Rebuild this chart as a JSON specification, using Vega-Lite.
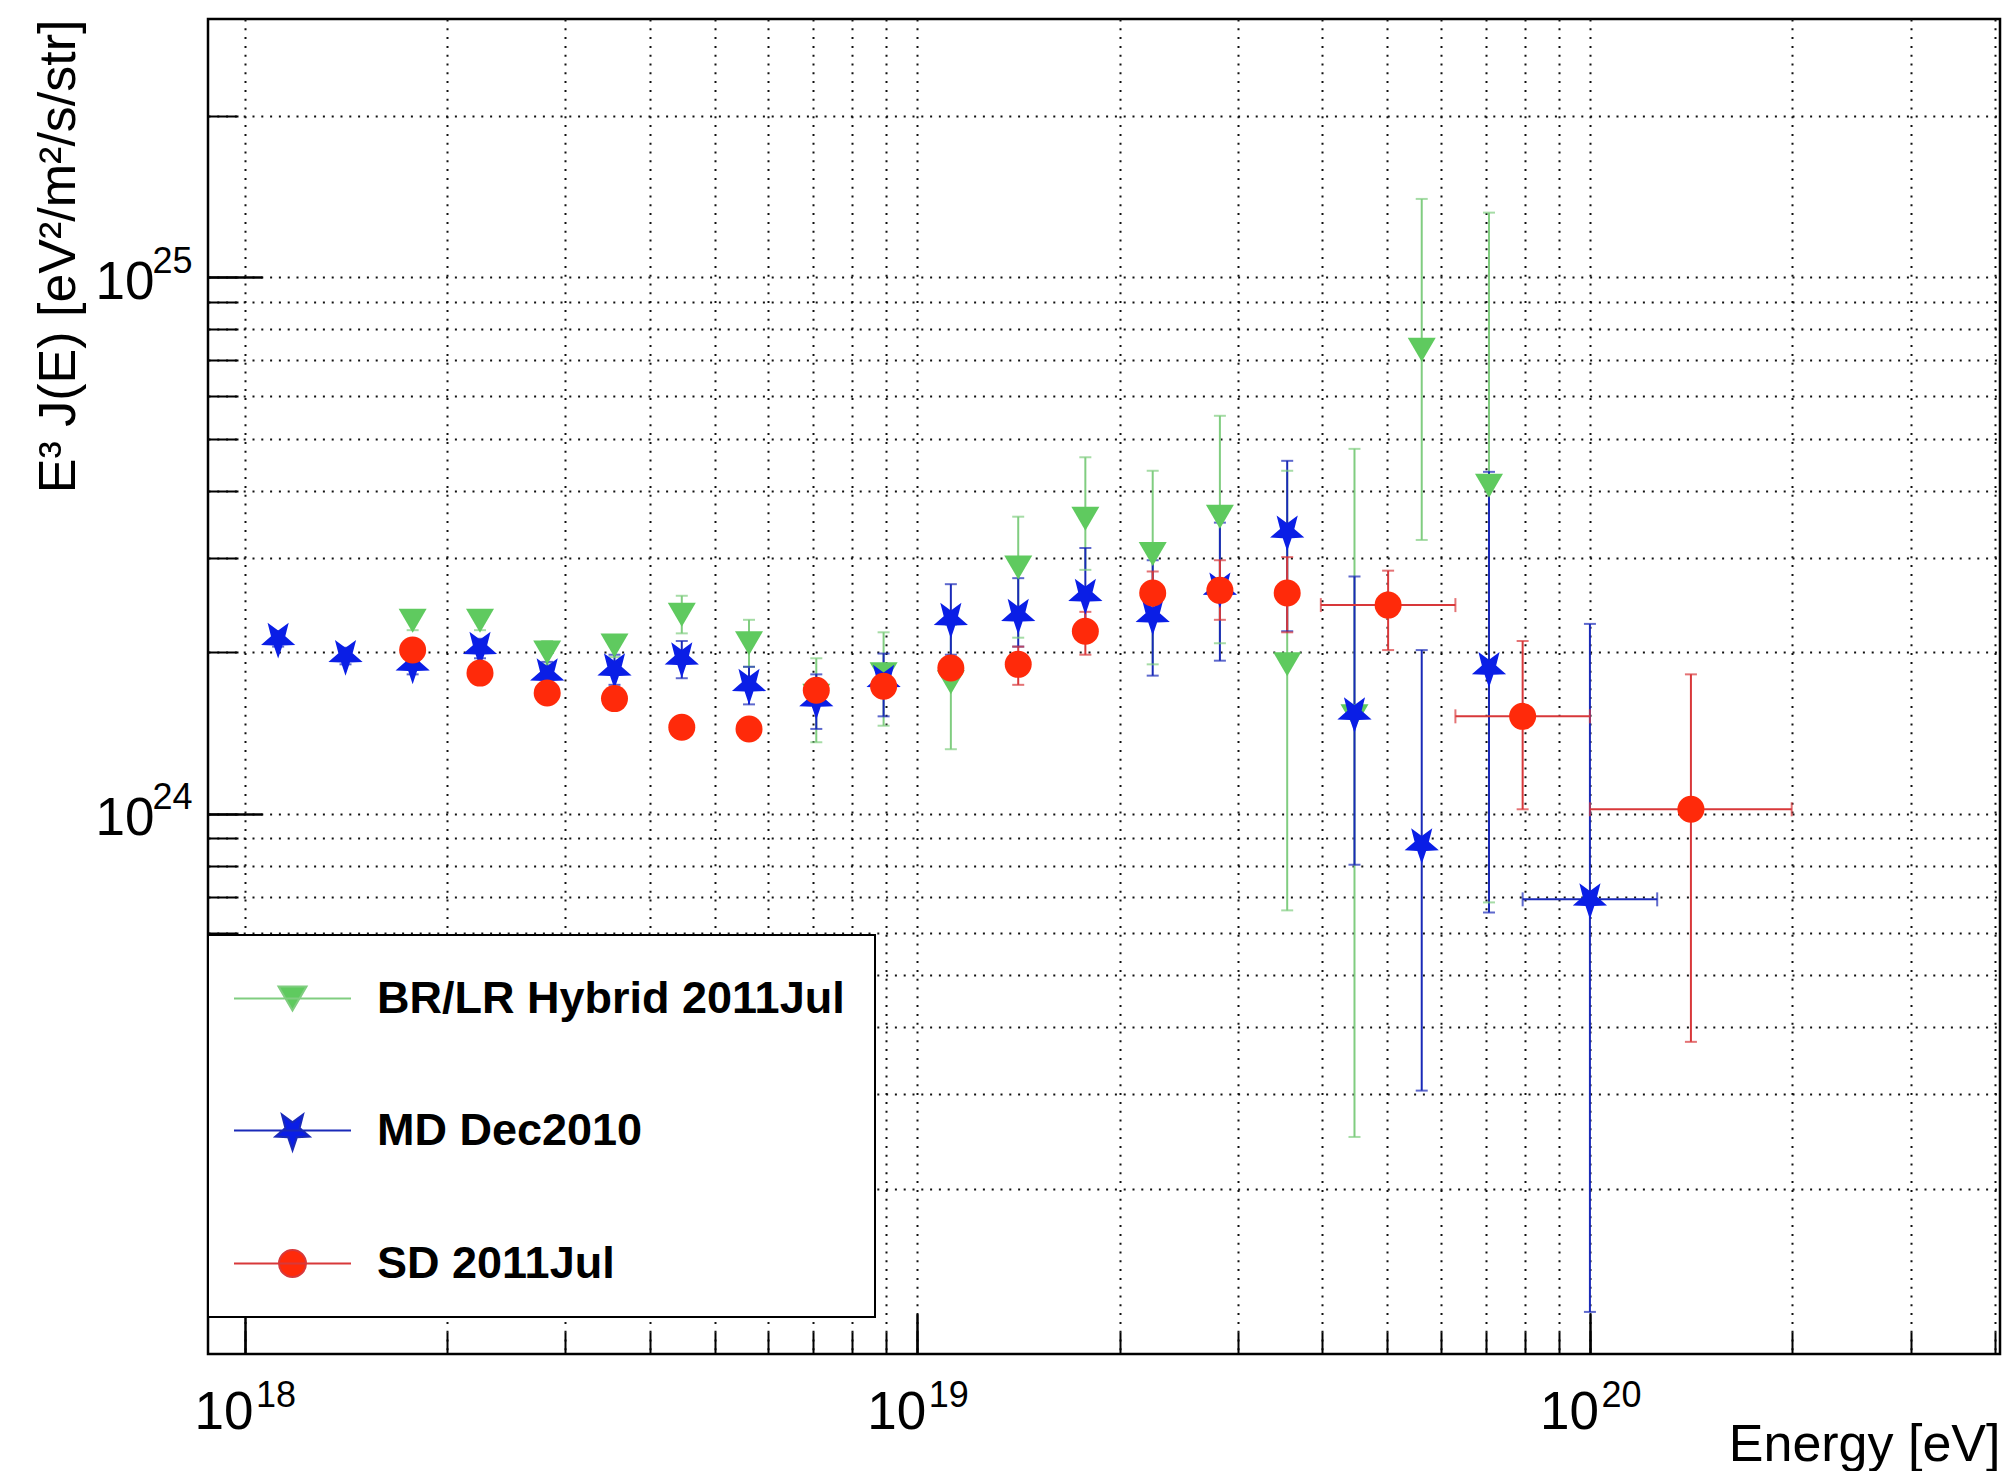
{
  "$schema": "https://vega.github.io/schema/vega-lite/v6.json",
  "width": 1792,
  "height": 1335,
  "autosize": {"type": "none"},
  "padding": {"left": 208, "top": 19, "right": 3, "bottom": 117},
  "background": "white",
  "config": {
    "view": {"stroke": "black", "strokeWidth": 2.5},
    "font": "Liberation Sans",
    "axis": {
      "labelFont": "Liberation Sans", "titleFont": "Liberation Sans",
      "labelColor": "black", "titleColor": "black", "titleFontWeight": "normal",
      "tickColor": "black", "tickWidth": 2, "domain": false,
      "gridColor": "#111111", "gridDash": [2, 6.8], "gridWidth": 2, "gridOpacity": 1
    },
    "legend": {"strokeWidth": 2}
  },
  "datasets": {
    "pts": [
      {"s": "BR/LR Hybrid 2011Jul", "E": 1.778e18, "J": 2.29e24, "lo": 2.20e24, "hi": 2.38e24},
      {"s": "BR/LR Hybrid 2011Jul", "E": 2.239e18, "J": 2.29e24, "lo": 2.20e24, "hi": 2.38e24},
      {"s": "BR/LR Hybrid 2011Jul", "E": 2.818e18, "J": 2.00e24, "lo": 1.90e24, "hi": 2.10e24},
      {"s": "BR/LR Hybrid 2011Jul", "E": 3.548e18, "J": 2.06e24, "lo": 1.96e24, "hi": 2.15e24},
      {"s": "BR/LR Hybrid 2011Jul", "E": 4.467e18, "J": 2.35e24, "lo": 2.17e24, "hi": 2.55e24},
      {"s": "BR/LR Hybrid 2011Jul", "E": 5.623e18, "J": 2.08e24, "lo": 1.88e24, "hi": 2.30e24},
      {"s": "BR/LR Hybrid 2011Jul", "E": 7.079e18, "J": 1.66e24, "lo": 1.36e24, "hi": 1.95e24},
      {"s": "BR/LR Hybrid 2011Jul", "E": 8.913e18, "J": 1.82e24, "lo": 1.46e24, "hi": 2.18e24},
      {"s": "BR/LR Hybrid 2011Jul", "E": 1.122e19, "J": 1.76e24, "lo": 1.32e24, "hi": 2.25e24},
      {"s": "BR/LR Hybrid 2011Jul", "E": 1.413e19, "J": 2.88e24, "lo": 2.13e24, "hi": 3.58e24},
      {"s": "BR/LR Hybrid 2011Jul", "E": 1.778e19, "J": 3.55e24, "lo": 2.85e24, "hi": 4.62e24},
      {"s": "BR/LR Hybrid 2011Jul", "E": 2.239e19, "J": 3.05e24, "lo": 1.90e24, "hi": 4.36e24},
      {"s": "BR/LR Hybrid 2011Jul", "E": 2.818e19, "J": 3.58e24, "lo": 2.08e24, "hi": 5.52e24},
      {"s": "BR/LR Hybrid 2011Jul", "E": 3.548e19, "J": 1.90e24, "lo": 6.61e23, "hi": 4.36e24},
      {"s": "BR/LR Hybrid 2011Jul", "E": 4.467e19, "J": 1.52e24, "lo": 2.50e23, "hi": 4.79e24},
      {"s": "BR/LR Hybrid 2011Jul", "E": 5.623e19, "J": 7.33e24, "lo": 3.24e24, "hi": 1.40e25},
      {"s": "BR/LR Hybrid 2011Jul", "E": 7.079e19, "J": 4.09e24, "lo": 6.84e23, "hi": 1.32e25},
      {"s": "MD Dec2010", "E": 1.122e18, "J": 2.12e24, "lo": 2.05e24, "hi": 2.19e24},
      {"s": "MD Dec2010", "E": 1.413e18, "J": 1.97e24, "lo": 1.90e24, "hi": 2.04e24},
      {"s": "MD Dec2010", "E": 1.778e18, "J": 1.90e24, "lo": 1.82e24, "hi": 1.98e24},
      {"s": "MD Dec2010", "E": 2.239e18, "J": 2.04e24, "lo": 1.95e24, "hi": 2.12e24},
      {"s": "MD Dec2010", "E": 2.818e18, "J": 1.82e24, "lo": 1.72e24, "hi": 1.92e24},
      {"s": "MD Dec2010", "E": 3.548e18, "J": 1.86e24, "lo": 1.74e24, "hi": 1.98e24},
      {"s": "MD Dec2010", "E": 4.467e18, "J": 1.95e24, "lo": 1.79e24, "hi": 2.10e24},
      {"s": "MD Dec2010", "E": 5.623e18, "J": 1.74e24, "lo": 1.60e24, "hi": 1.88e24},
      {"s": "MD Dec2010", "E": 7.079e18, "J": 1.63e24, "lo": 1.44e24, "hi": 1.82e24},
      {"s": "MD Dec2010", "E": 8.913e18, "J": 1.77e24, "lo": 1.52e24, "hi": 1.99e24},
      {"s": "MD Dec2010", "E": 1.122e19, "J": 2.31e24, "lo": 1.98e24, "hi": 2.68e24},
      {"s": "MD Dec2010", "E": 1.413e19, "J": 2.35e24, "lo": 2.05e24, "hi": 2.75e24},
      {"s": "MD Dec2010", "E": 1.778e19, "J": 2.56e24, "lo": 2.15e24, "hi": 3.13e24},
      {"s": "MD Dec2010", "E": 2.239e19, "J": 2.34e24, "lo": 1.81e24, "hi": 2.97e24},
      {"s": "MD Dec2010", "E": 2.818e19, "J": 2.63e24, "lo": 1.93e24, "hi": 3.49e24},
      {"s": "MD Dec2010", "E": 3.548e19, "J": 3.36e24, "lo": 2.19e24, "hi": 4.55e24},
      {"s": "MD Dec2010", "E": 4.467e19, "J": 1.54e24, "lo": 8.04e23, "hi": 2.77e24},
      {"s": "MD Dec2010", "E": 5.623e19, "J": 8.78e23, "lo": 3.05e23, "hi": 2.02e24},
      {"s": "MD Dec2010", "E": 7.079e19, "J": 1.87e24, "lo": 6.55e23, "hi": 4.34e24},
      {"s": "MD Dec2010", "E": 1.0e20, "J": 6.93e23, "lo": 1.18e23, "hi": 2.26e24, "Elo": 7.943e19, "Ehi": 1.259e20},
      {"s": "SD 2011Jul", "E": 1.778e18, "J": 2.02e24, "lo": 1.95e24, "hi": 2.09e24},
      {"s": "SD 2011Jul", "E": 2.239e18, "J": 1.83e24, "lo": 1.77e24, "hi": 1.89e24},
      {"s": "SD 2011Jul", "E": 2.818e18, "J": 1.68e24, "lo": 1.62e24, "hi": 1.74e24},
      {"s": "SD 2011Jul", "E": 3.548e18, "J": 1.64e24, "lo": 1.58e24, "hi": 1.70e24},
      {"s": "SD 2011Jul", "E": 4.467e18, "J": 1.45e24, "lo": 1.39e24, "hi": 1.51e24},
      {"s": "SD 2011Jul", "E": 5.623e18, "J": 1.44e24, "lo": 1.38e24, "hi": 1.50e24},
      {"s": "SD 2011Jul", "E": 7.079e18, "J": 1.70e24, "lo": 1.63e24, "hi": 1.77e24},
      {"s": "SD 2011Jul", "E": 8.913e18, "J": 1.73e24, "lo": 1.65e24, "hi": 1.81e24},
      {"s": "SD 2011Jul", "E": 1.122e19, "J": 1.87e24, "lo": 1.78e24, "hi": 1.96e24},
      {"s": "SD 2011Jul", "E": 1.413e19, "J": 1.90e24, "lo": 1.74e24, "hi": 2.05e24},
      {"s": "SD 2011Jul", "E": 1.778e19, "J": 2.19e24, "lo": 1.98e24, "hi": 2.38e24},
      {"s": "SD 2011Jul", "E": 2.239e19, "J": 2.58e24, "lo": 2.33e24, "hi": 2.83e24},
      {"s": "SD 2011Jul", "E": 2.818e19, "J": 2.61e24, "lo": 2.30e24, "hi": 2.97e24},
      {"s": "SD 2011Jul", "E": 3.548e19, "J": 2.58e24, "lo": 2.18e24, "hi": 3.01e24},
      {"s": "SD 2011Jul", "E": 5.012e19, "J": 2.45e24, "lo": 2.02e24, "hi": 2.84e24, "Elo": 3.981e19, "Ehi": 6.310e19},
      {"s": "SD 2011Jul", "E": 7.943e19, "J": 1.52e24, "lo": 1.02e24, "hi": 2.10e24, "Elo": 6.310e19, "Ehi": 1.0e20},
      {"s": "SD 2011Jul", "E": 1.413e20, "J": 1.02e24, "lo": 3.76e23, "hi": 1.82e24, "Elo": 1.0e20, "Ehi": 1.995e20}
    ]
  },
  "data": {"name": "pts"},
  "layer": [
    {
      "mark": {"type": "rule", "strokeWidth": 2},
      "encoding": {
        "x": {"field": "E", "type": "quantitative", "scale": {"type": "log", "domain": [8.825e17, 4.07e20], "nice": false},
          "axis": {"orient": "bottom", "values": [1e18, 2e18, 3e18, 4e18, 5e18, 6e18, 7e18, 8e18, 9e18, 1e19, 2e19, 3e19, 4e19, 5e19, 6e19, 7e19, 8e19, 9e19, 1e20, 2e20, 3e20, 4e20], "grid": true, "labels": false, "tickSize": -22, "title": null}},
        "y": {"field": "lo", "type": "quantitative", "scale": {"type": "log", "domain": [9.85e22, 3.03e25], "nice": false},
          "axis": {"orient": "left", "values": [2e23, 3e23, 4e23, 5e23, 6e23, 7e23, 8e23, 9e23, 1e24, 2e24, 3e24, 4e24, 5e24, 6e24, 7e24, 8e24, 9e24, 1e25, 2e25], "grid": true, "labels": false, "tickSize": -30, "title": null}},
        "y2": {"field": "hi"},
        "color": {"field": "s", "type": "nominal", "legend": null,
          "scale": {"range": ["#80cd80", "#1a2ab8", "#d8383a"]}}
      }
    },
    {
      "mark": {"type": "tick", "orient": "horizontal", "size": 12, "thickness": 2},
      "encoding": {
        "x": {"field": "E", "type": "quantitative", "scale": {"type": "log", "domain": [8.825e17, 4.07e20], "nice": false},
          "axis": {"orient": "bottom", "values": [1e18, 1e19, 1e20], "grid": false, "tickSize": -40, "labelPadding": 72,
            "labelExpr": "'10'", "labelOffset": -21,
            "labelFontSize": 53, "labelBaseline": "top", "labelAlign": "center", "labelFlush": false, "labelOverlap": false,
            "title": "Energy [eV]", "titleFontSize": 52, "titleAnchor": "end", "titleAlign": "right", "titleX": 1792, "titleY": 106, "titleBaseline": "alphabetic"}},
        "y": {"field": "lo", "type": "quantitative", "scale": {"type": "log", "domain": [9.85e22, 3.03e25], "nice": false},
          "axis": {"orient": "left", "values": [1e24, 1e25], "grid": false, "tickSize": -54, "labelPadding": 108,
            "labelExpr": "'10'", "labelOffset": 21,
            "labelFontSize": 53, "labelAlign": "right", "labelBaseline": "alphabetic", "labelFlush": false, "labelOverlap": false,
            "title": "E³ J(E) [eV²/m²/s/str]", "titleFontSize": 52, "titleAngle": 270, "titleAnchor": "end", "titleAlign": "right", "titleX": -134, "titleY": 0, "titleBaseline": "alphabetic"}},
        "color": {"field": "s", "type": "nominal", "legend": null}
      }
    },
    {
      "mark": {"type": "tick", "orient": "horizontal", "size": 12, "thickness": 2},
      "encoding": {
        "x": {"field": "E", "type": "quantitative", "scale": {"type": "log", "domain": [8.825e17, 4.07e20], "nice": false},
          "axis": {"orient": "bottom", "values": [1e18, 1e19, 1e20], "grid": false, "tickSize": -40, "labelPadding": 64,
            "labelExpr": "datum.value < 5e18 ? '18' : datum.value < 5e19 ? '19' : '20'", "labelOffset": 31,
            "labelFontSize": 36, "labelBaseline": "top", "labelAlign": "center", "labelFlush": false, "labelOverlap": false,
            "title": null}},
        "y": {"field": "hi", "type": "quantitative", "scale": {"type": "log", "domain": [9.85e22, 3.03e25], "nice": false},
          "axis": {"orient": "left", "values": [1e24, 1e25], "grid": false, "tickSize": -54, "labelPadding": 70,
            "labelExpr": "datum.value < 5e24 ? '24' : '25'", "labelOffset": -5,
            "labelFontSize": 36, "labelAlign": "right", "labelBaseline": "alphabetic", "labelFlush": false, "labelOverlap": false,
            "title": null}},
        "color": {"field": "s", "type": "nominal", "legend": null}
      }
    },
    {
      "transform": [{"filter": "isValid(datum.Elo)"}],
      "mark": {"type": "rule", "strokeWidth": 2},
      "encoding": {
        "x": {"field": "Elo", "type": "quantitative", "scale": {"type": "log", "domain": [8.825e17, 4.07e20], "nice": false}, "axis": null},
        "x2": {"field": "Ehi"},
        "y": {"field": "J", "type": "quantitative", "scale": {"type": "log", "domain": [9.85e22, 3.03e25], "nice": false}, "axis": null},
        "color": {"field": "s", "type": "nominal", "legend": null}
      }
    },
    {
      "transform": [{"filter": "isValid(datum.Elo)"}],
      "mark": {"type": "tick", "orient": "vertical", "size": 14, "thickness": 2},
      "encoding": {
        "x": {"field": "Elo", "type": "quantitative", "scale": {"type": "log", "domain": [8.825e17, 4.07e20], "nice": false}, "axis": null},
        "y": {"field": "J", "type": "quantitative", "scale": {"type": "log", "domain": [9.85e22, 3.03e25], "nice": false}, "axis": null},
        "color": {"field": "s", "type": "nominal", "legend": null}
      }
    },
    {
      "transform": [{"filter": "isValid(datum.Elo)"}],
      "mark": {"type": "tick", "orient": "vertical", "size": 14, "thickness": 2},
      "encoding": {
        "x": {"field": "Ehi", "type": "quantitative", "scale": {"type": "log", "domain": [8.825e17, 4.07e20], "nice": false}, "axis": null},
        "y": {"field": "J", "type": "quantitative", "scale": {"type": "log", "domain": [9.85e22, 3.03e25], "nice": false}, "axis": null},
        "color": {"field": "s", "type": "nominal", "legend": null}
      }
    },
    {
      "transform": [{"filter": {"field": "s", "equal": "BR/LR Hybrid 2011Jul"}}],
      "mark": {"type": "point", "filled": true, "opacity": 1, "size": 400, "color": "#5fca5f", "shape": "M-1.4,-1.2L1.4,-1.2L0,1.2Z"},
      "encoding": {
        "x": {"field": "E", "type": "quantitative", "scale": {"type": "log", "domain": [8.825e17, 4.07e20], "nice": false}, "axis": null},
        "y": {"field": "J", "type": "quantitative", "scale": {"type": "log", "domain": [9.85e22, 3.03e25], "nice": false}, "axis": null}
      }
    },
    {
      "transform": [{"filter": {"field": "s", "equal": "MD Dec2010"}}],
      "mark": {"type": "point", "filled": true, "opacity": 1, "size": 400, "color": "#0a1ee6", "shape": "M0,1.98L-0.441,0.667L-1.712,0.612L-0.713,-0.255L-1.058,-1.602L0,-0.825L1.058,-1.602L0.713,-0.255L1.712,0.612L0.441,0.667Z"},
      "encoding": {
        "x": {"field": "E", "type": "quantitative", "scale": {"type": "log", "domain": [8.825e17, 4.07e20], "nice": false}, "axis": null},
        "y": {"field": "J", "type": "quantitative", "scale": {"type": "log", "domain": [9.85e22, 3.03e25], "nice": false}, "axis": null}
      }
    },
    {
      "transform": [{"filter": {"field": "s", "equal": "SD 2011Jul"}}],
      "mark": {"type": "point", "filled": true, "opacity": 1, "size": 729, "color": "#ff2a0a", "shape": "circle"},
      "encoding": {
        "x": {"field": "E", "type": "quantitative", "scale": {"type": "log", "domain": [8.825e17, 4.07e20], "nice": false}, "axis": null},
        "y": {"field": "J", "type": "quantitative", "scale": {"type": "log", "domain": [9.85e22, 3.03e25], "nice": false}, "axis": null}
      }
    },
    {
      "mark": {"type": "point", "opacity": 0, "size": 4225, "strokeWidth": 2},
      "encoding": {
        "x": {"field": "E", "type": "quantitative", "scale": {"type": "log", "domain": [8.825e17, 4.07e20], "nice": false}, "axis": null},
        "y": {"field": "J", "type": "quantitative", "scale": {"type": "log", "domain": [9.85e22, 3.03e25], "nice": false}, "axis": null},
        "fill": {"field": "s", "type": "nominal",
          "scale": {"domain": ["BR/LR Hybrid 2011Jul", "MD Dec2010", "SD 2011Jul"], "range": ["#5fca5f", "#0a1ee6", "#ff2a0a"]}},
        "stroke": {"field": "s", "type": "nominal",
          "scale": {"domain": ["BR/LR Hybrid 2011Jul", "MD Dec2010", "SD 2011Jul"], "range": ["#80cd80", "#1a2ab8", "#d8383a"]}},
        "shape": {"field": "s", "type": "nominal",
          "scale": {"domain": ["BR/LR Hybrid 2011Jul", "MD Dec2010", "SD 2011Jul"],
            "range": [
              "M-1.8,0H1.8M-0.431,-0.369L0.431,-0.369L0,0.369Z",
              "M-1.8,0H1.8M0,0.609L-0.136,0.205L-0.527,0.188L-0.219,-0.078L-0.326,-0.493L0,-0.254L0.326,-0.493L0.219,-0.078L0.527,0.188L0.136,0.205Z",
              "M-1.8,0H1.8M-0.415,0A0.415,0.415,0,1,0,0.415,0A0.415,0.415,0,1,0,-0.415,0Z"
            ]},
          "legend": {
            "title": null, "orient": "none", "legendX": 0, "legendY": 916, "direction": "vertical",
            "fillColor": "white", "strokeColor": "black", "padding": 30, "rowPadding": 75,
            "symbolSize": 4225, "symbolStrokeWidth": 2, "symbolOffset": 21, "symbolOpacity": 1,
            "labelOffset": 51, "labelFont": "Liberation Sans", "labelFontSize": 45, "labelFontWeight": "bold",
            "labelColor": "black", "labelLimit": 0, "labelBaseline": "middle"
          }}
      }
    }
  ],
  "resolve": {"axis": {"x": "independent", "y": "independent"}}
}
